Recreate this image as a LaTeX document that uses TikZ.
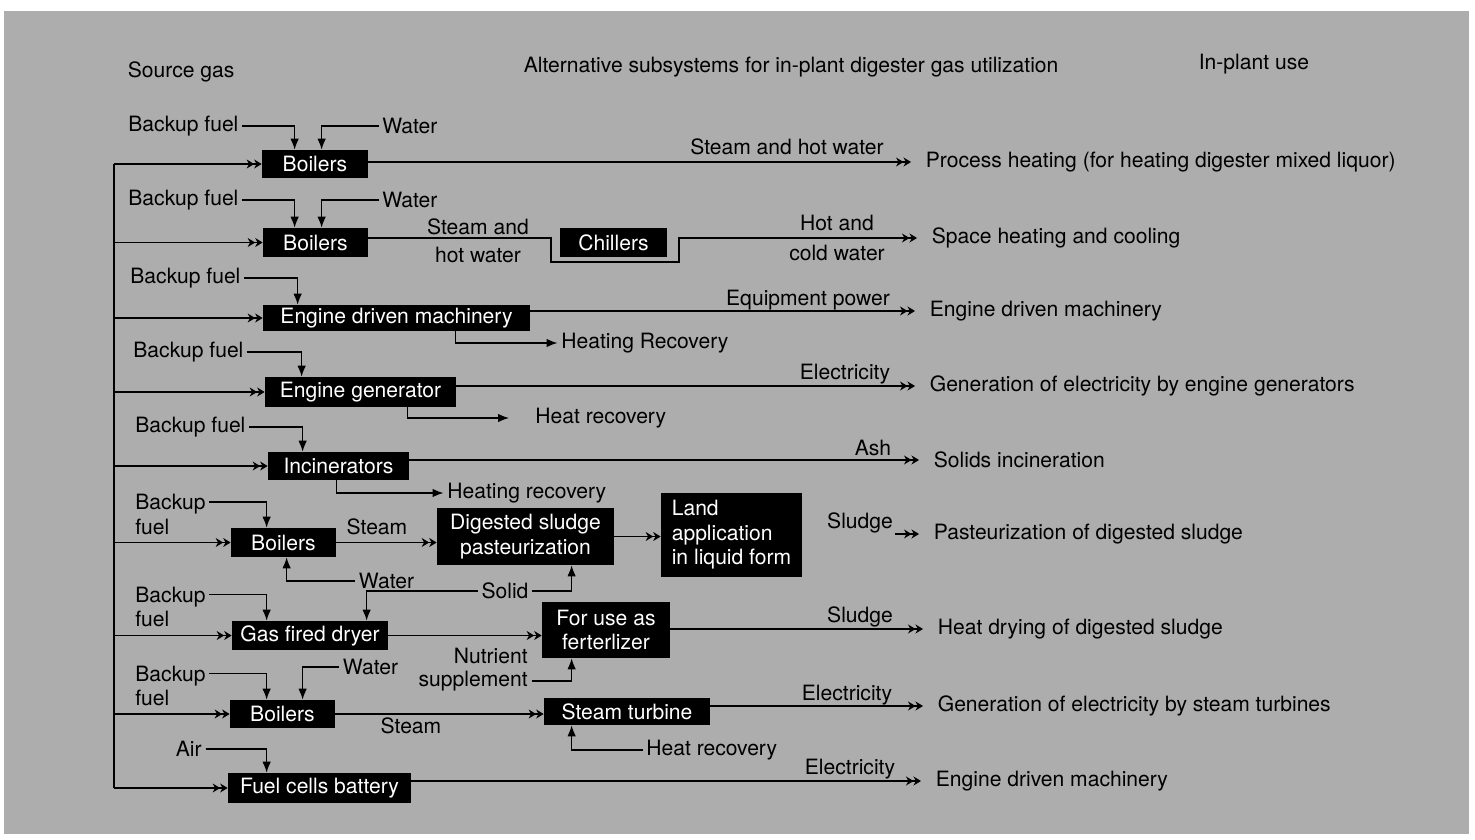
\documentclass[tikz,border=0pt]{standalone}
\usepackage{fontspec}
\setmainfont{TeX Gyre Heros}
\usepackage{tikz}
\usetikzlibrary{arrows.meta}
\usetikzlibrary{positioning}
\definecolor{halftone}{gray}{0.68}
\tikzstyle{unit_node} = [
    rectangle, 
    white, 
    fill=black, 
    align=center, 
    inner sep=0pt, 
    font=\fontsize{12}{14}\selectfont
]
\tikzstyle{tag_node} = [
    black, 
    align=center, 
    inner sep=2pt, % keeps the arrows off the words
    font=\fontsize{12}{14}\selectfont
]
\tikzstyle{use_node} = [
    tag_node, 
    anchor=west
]
\tikzstyle{feed_line} = [
    draw=black, 
    line width=0.7pt, 
    -{Latex[length=0.22cm, width=0.17cm]}
]
\tikzstyle{supply_line} = [
    draw=black, 
    line width=0.6pt, 
    -{Stealth[length=0.15cm, width=0.18cm] Stealth[length=0.15cm, width=0.18cm]}
]
\tikzstyle{output_line} = [
    supply_line, 
    shorten >=0.22cm
]

\begin{document}
\begin{tikzpicture}[
    x=0.02cm, y=-0.02cm,
    box_wh/.style 2 args={
        minimum width=#1*0.02cm, 
        minimum height=#2*0.02cm
    }
]
\useasboundingbox (0,0) rectangle (1475,839);
\fill [halftone] (4,11) rectangle (1469,834);

% headings
\node [use_node] (src_head) at (124,72) {Source gas};
\node [use_node] (alt_head) at (520,67) {Alternative subsystems for in-plant digester gas utilization};
\node [use_node] (use_head) at (1195,64) {In-plant use};

% subsystems
\node [unit_node, box_wh={106}{28}] (boil_a) at (315,164) {Boilers};
\node [unit_node, box_wh={105}{29}] (boil_b) at (315.5,242.5) {Boilers};
\node [unit_node, box_wh={107}{29}] (chill) at (613.5,242.5) {Chillers};
\node [unit_node, box_wh={267}{26}] (edm) at (396.5,318) {Engine driven machinery};
\node [unit_node, box_wh={191}{30}] (egen) at (360.5,392) {Engine generator};
\node [unit_node, box_wh={141}{28}] (incin) at (338.5,466) {Incinerators};
\node [unit_node, box_wh={105}{29}] (boil_c) at (283.5,542.5) {Boilers};
\node [unit_node, box_wh={177}{57}] (dsp) at (525.5,536.5) {Digested sludge\\pasteurization};
\node [unit_node, box_wh={141}{84}, align=left] (land) at (731.5,535) {Land\\application\\in liquid form};
\node [unit_node, box_wh={156}{29}] (dryer) at (310,635.5) {Gas fired dryer};
\node [unit_node, box_wh={128}{56}] (fert) at (606,630) {For use as\\ferterlizer};
\node [unit_node, box_wh={105}{28}] (boil_d) at (282.5,714) {Boilers};
\node [unit_node, box_wh={166}{27}] (turb) at (627,711.5) {Steam turbine};
\node [unit_node, box_wh={183}{30}] (fcell) at (319.5,788) {Fuel cells battery};

% in-plant uses
\node [use_node] (use_a) at (922,162) {Process heating (for heating digester mixed liquor)};
\node [use_node] (use_b) at (928,238) {Space heating and cooling};
\node [use_node] (use_c) at (926,311) {Engine driven machinery};
\node [use_node] (use_d) at (926,386) {Generation of electricity by engine generators};
\node [use_node] (use_e) at (930,460) {Solids incineration};
\node [use_node] (use_f) at (930,534) {Pasteurization of digested sludge};
\node [use_node] (use_g) at (934,629) {Heat drying of digested sludge};
\node [use_node] (use_h) at (934,706) {Generation of electricity by steam turbines};
\node [use_node] (use_i) at (932,781) {Engine driven machinery};

% flow labels
\node [tag_node] (lb_a) at (787,147) {Steam and hot water};
\node [tag_node] (lb_b1) at (478,241) {Steam and\\[2pt]hot water};
\node [tag_node] (lb_b2) at (837,238) {Hot and\\[3pt]cold water};
\node [tag_node] (lb_c) at (808,300) {Equipment power};
\node [tag_node] (lb_d) at (845,374) {Electricity};
\node [tag_node] (lb_e) at (873,448) {Ash};
\node [tag_node] (lb_f0) at (377,527) {Steam};
\node [tag_node] (lb_f) at (860,523) {Sludge};
\node [tag_node] (lb_g) at (860,617) {Sludge};
\node [tag_node] (lb_h0) at (411,726) {Steam};
\node [tag_node] (lb_h) at (847,695) {Electricity};
\node [tag_node] (lb_i) at (850,769) {Electricity};

% side inputs
\node [use_node] (bf_a) at (124.5,126) {Backup fuel};
\node [use_node] (wa_a) at (378.5,126) {Water};
\node [use_node] (bf_b) at (124.5,200) {Backup fuel};
\node [use_node] (wa_b) at (378.5,200) {Water};
\node [use_node] (bf_c) at (126.5,278) {Backup fuel};
\node [use_node] (bf_d) at (129.5,352) {Backup fuel};
\node [use_node] (bf_e) at (131.5,427) {Backup fuel};
\node [use_node, align=left] (bf_f) at (131.5,514.5) {Backup\\fuel};
\node [use_node, align=left] (bf_g) at (131.5,607) {Backup\\fuel};
\node [use_node, align=left] (bf_h) at (131.5,686) {Backup\\fuel};
\node [tag_node, anchor=east] (air) at (205.5,749) {Air};
\node [tag_node] (wa_f) at (386.5,581) {Water};
\node [tag_node] (sol) at (505,591) {Solid};
\node [tag_node] (wa_h) at (370.5,667) {Water};
\node [tag_node, anchor=east, align=right] (nutr) at (531.5,670) {Nutrient\\[-1pt]supplement};
\node [use_node] (hr_c) at (557.5,343) {Heating Recovery};
\node [use_node] (hr_d) at (531.5,418) {Heat recovery};
\node [use_node] (hr_e) at (443.5,493) {Heating recovery};
\node [use_node] (hr_h) at (642.5,750) {Heat recovery};

\draw [feed_line] (bf_a.east) -| ([xshift=0.66cm]boil_a.north west);
\draw [feed_line] (wa_a.west) -| ([xshift=1.2cm]boil_a.north west);
\draw [feed_line] (bf_b.east) -| ([xshift=0.64cm]boil_b.north west);
\draw [feed_line] (wa_b.west) -| ([xshift=1.18cm]boil_b.north west);
\draw [feed_line] (bf_c.east) -| ([xshift=0.7cm]edm.north west);
\draw [feed_line] (bf_d.east) -| ([xshift=0.74cm]egen.north west);
\draw [feed_line] (bf_e.east) -| ([xshift=0.7cm]incin.north west);
\draw [feed_line] ([yshift=0.25cm]bf_f.east) -| ([xshift=0.72cm]boil_c.north west);
\draw [feed_line] ([yshift=0.25cm]bf_g.east) -| ([xshift=0.7cm]dryer.north west);
\draw [feed_line] ([yshift=0.25cm]bf_h.east) -| ([xshift=0.74cm]boil_d.north west);
\draw [feed_line] (air.east) -| ([xshift=0.78cm]fcell.north west);
\draw [feed_line] (wa_f.west) -| ([xshift=1.12cm]boil_c.south west);
\draw [feed_line] (sol.west) -| ([xshift=2.7cm]dryer.north west);
\draw [feed_line] (sol.east) -| ([xshift=2.7cm]dsp.south west);
\draw [feed_line] (wa_h.west) -| ([xshift=1.46cm]boil_d.north west);
\draw [feed_line] ([yshift=-0.22cm]nutr.east) -| ([xshift=0.6cm]fert.south west);
\draw [feed_line] (hr_h.west) -| ([xshift=0.56cm]turb.south west);

% heat recovery branches
\draw [feed_line] ([xshift=3.86cm]edm.south west) |- (hr_c);
\draw [feed_line, shorten >=0.45cm] ([xshift=2.86cm]egen.south west) |- (hr_d);
\draw [feed_line] ([xshift=1.38cm]incin.south west) |- (hr_e);

% source gas
\coordinate (src) at (114,164);
\draw [draw=black, line width=0.6pt] (src) -- (src |- fcell);
\foreach \blk in {boil_a, boil_b, edm, egen, incin, boil_c, dryer, boil_d, fcell}
    \draw [supply_line] (src |- \blk) -- (\blk);

% between subsystems
\draw [supply_line] (boil_c.east) -- (boil_c.east -| dsp.west);
\draw [supply_line] (dsp.east) -- (dsp.east -| land.west);
\draw [supply_line] (dryer.east) -- (dryer.east -| fert.west);
\draw [supply_line] (boil_d.east) -- (boil_d.east -| turb.west);

% to in-plant use
\coordinate (byp_l) at (551,262);
\coordinate (byp_r) at (679,262);
\coordinate (sl_f) at (895,534);
\draw [output_line] (boil_a.east |- use_a) -- (use_a);
\draw [output_line] (boil_b.east |- use_b) -| (byp_l) -- (byp_r) |- (use_b);
\draw [output_line] (edm.east |- use_c) -- (use_c);
\draw [output_line] (egen.east |- use_d) -- (use_d);
\draw [output_line] (incin.east |- use_e) -- (use_e);
\draw [output_line] (sl_f) -- (use_f);
\draw [output_line] (fert.east |- use_g) -- (use_g);
\draw [output_line] (turb.east |- use_h) -- (use_h);
\draw [output_line] (fcell.east |- use_i) -- (use_i);
\end{tikzpicture}
\end{document}
